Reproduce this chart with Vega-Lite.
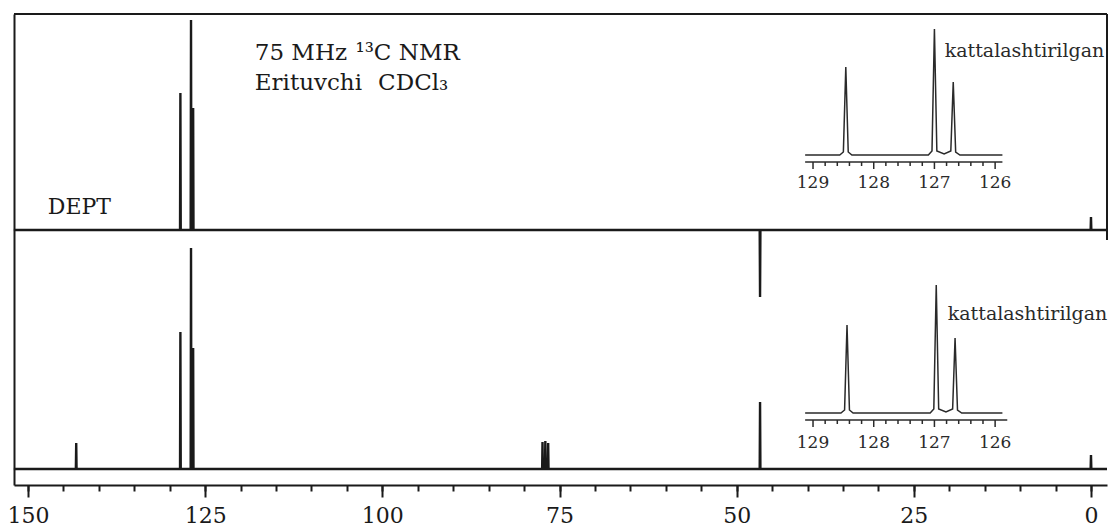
{
  "$schema": "https://vega.github.io/schema/vega-lite/v6.json",
  "width": 1093,
  "height": 471,
  "autosize": {"type": "none"},
  "padding": {"left": 14, "top": 14, "right": 3, "bottom": 47},
  "background": "white",
  "config": {"view": {"stroke": null}, "font": "DejaVu Serif"},
  "datasets": {
    "top": [
      {"ppm": 152, "intensity": 0},
      {"ppm": 128.55, "intensity": 0}, {"ppm": 128.5, "intensity": 137}, {"ppm": 128.45, "intensity": 0},
      {"ppm": 127.05, "intensity": 0}, {"ppm": 127.0, "intensity": 210}, {"ppm": 126.95, "intensity": 0},
      {"ppm": 126.75, "intensity": 0}, {"ppm": 126.7, "intensity": 122}, {"ppm": 126.65, "intensity": 0},
      {"ppm": 46.75, "intensity": 0}, {"ppm": 46.7, "intensity": -67}, {"ppm": 46.65, "intensity": 0},
      {"ppm": 0.05, "intensity": 0}, {"ppm": 0.0, "intensity": 13}, {"ppm": -0.05, "intensity": 0},
      {"ppm": -2.26, "intensity": 0}
    ],
    "bottom": [
      {"ppm": 152, "intensity": 0},
      {"ppm": 143.25, "intensity": 0}, {"ppm": 143.2, "intensity": 26}, {"ppm": 143.15, "intensity": 0},
      {"ppm": 128.55, "intensity": 0}, {"ppm": 128.5, "intensity": 137}, {"ppm": 128.45, "intensity": 0},
      {"ppm": 127.05, "intensity": 0}, {"ppm": 127.0, "intensity": 221}, {"ppm": 126.95, "intensity": 0},
      {"ppm": 126.75, "intensity": 0}, {"ppm": 126.7, "intensity": 121}, {"ppm": 126.65, "intensity": 0},
      {"ppm": 77.45, "intensity": 0}, {"ppm": 77.4, "intensity": 27}, {"ppm": 77.35, "intensity": 0},
      {"ppm": 77.05, "intensity": 0}, {"ppm": 77.0, "intensity": 28}, {"ppm": 76.95, "intensity": 0},
      {"ppm": 76.65, "intensity": 0}, {"ppm": 76.6, "intensity": 26}, {"ppm": 76.55, "intensity": 0},
      {"ppm": 46.75, "intensity": 0}, {"ppm": 46.7, "intensity": 67}, {"ppm": 46.65, "intensity": 0},
      {"ppm": 0.05, "intensity": 0}, {"ppm": 0.0, "intensity": 14}, {"ppm": -0.05, "intensity": 0},
      {"ppm": -2.26, "intensity": 0}
    ],
    "inset_top": [
      {"ppm": 129.13, "intensity": 0},
      {"ppm": 128.56, "intensity": 0}, {"ppm": 128.5, "intensity": 3}, {"ppm": 128.46, "intensity": 88}, {"ppm": 128.42, "intensity": 3}, {"ppm": 128.36, "intensity": 0},
      {"ppm": 127.1, "intensity": 0}, {"ppm": 127.04, "intensity": 4}, {"ppm": 127.0, "intensity": 126}, {"ppm": 126.96, "intensity": 4},
      {"ppm": 126.84, "intensity": 1}, {"ppm": 126.73, "intensity": 4}, {"ppm": 126.69, "intensity": 73}, {"ppm": 126.65, "intensity": 3}, {"ppm": 126.58, "intensity": 0},
      {"ppm": 125.88, "intensity": 0}
    ],
    "inset_bottom": [
      {"ppm": 129.13, "intensity": 0},
      {"ppm": 128.54, "intensity": 0}, {"ppm": 128.48, "intensity": 3}, {"ppm": 128.44, "intensity": 88}, {"ppm": 128.4, "intensity": 3}, {"ppm": 128.34, "intensity": 0},
      {"ppm": 127.07, "intensity": 0}, {"ppm": 127.01, "intensity": 4}, {"ppm": 126.97, "intensity": 128}, {"ppm": 126.93, "intensity": 4},
      {"ppm": 126.81, "intensity": 1}, {"ppm": 126.7, "intensity": 4}, {"ppm": 126.66, "intensity": 75}, {"ppm": 126.62, "intensity": 3}, {"ppm": 126.55, "intensity": 0},
      {"ppm": 125.88, "intensity": 0}
    ],
    "inset_major": [{"ppm": 129}, {"ppm": 128}, {"ppm": 127}, {"ppm": 126}],
    "inset_minor": [
      {"ppm": 128.8}, {"ppm": 128.6}, {"ppm": 128.4}, {"ppm": 128.2},
      {"ppm": 127.8}, {"ppm": 127.6}, {"ppm": 127.4}, {"ppm": 127.2},
      {"ppm": 126.8}, {"ppm": 126.6}, {"ppm": 126.4}, {"ppm": 126.2}
    ],
    "notes": [{"label": "note"}]
  },
  "layer": [
    {
      "layer": [
        {
          "data": {"name": "top"},
          "mark": {"type": "line", "color": "#1a1a1a", "strokeWidth": 2.4, "interpolate": "linear"},
          "encoding": {
            "x": {"field": "ppm", "type": "quantitative", "scale": {"domain": [-2.26, 151.98], "reverse": true, "nice": false, "zero": false},
              "axis": {"orient": "bottom", "values": [150,125,100,75,50,25,0],
                "tickSize": 12, "tickWidth": 2, "tickColor": "#1a1a1a", "domainColor": "#1a1a1a", "domainWidth": 2,
                "labelFont": "DejaVu Serif", "labelFontSize": 22, "labelColor": "#1a1a1a", "labelPadding": 8,
                "labelOverlap": false, "labelFlush": false, "grid": false, "title": null, "format": "d"}},
            "y": {"field": "intensity", "type": "quantitative", "scale": {"domain": [-255, 216], "nice": false, "zero": false},
              "axis": {"orient": "left", "domain": true, "ticks": false, "labels": false, "grid": false, "title": null, "domainColor": "#1a1a1a", "domainWidth": 2}}
          }
        },
        {
          "data": {"name": "notes"},
          "mark": {"type": "rule", "color": "#1a1a1a", "strokeWidth": 2},
          "encoding": {"x": {"datum": 151.98}, "x2": {"datum": -2.26}, "y": {"datum": 216}}
        },
        {
          "data": {"name": "notes"},
          "mark": {"type": "rule", "color": "#1a1a1a", "strokeWidth": 2},
          "encoding": {"x": {"datum": -2.26}, "y": {"datum": 216}, "y2": {"datum": -10}}
        },
        {
          "data": {"name": "notes"},
          "mark": {"type": "text", "align": "left", "baseline": "alphabetic", "font": "DejaVu Serif", "fontSize": 23, "color": "#1a1a1a"},
          "encoding": {"x": {"datum": 118}, "y": {"datum": 170}, "text": {"value": "75 MHz"}}
        },
        {
          "data": {"name": "notes"},
          "mark": {"type": "text", "align": "left", "baseline": "alphabetic", "font": "DejaVu Serif", "fontSize": 23, "color": "#1a1a1a"},
          "encoding": {"x": {"datum": 103.8}, "y": {"datum": 170}, "text": {"value": "¹³C NMR"}}
        },
        {
          "data": {"name": "notes"},
          "mark": {"type": "text", "align": "left", "baseline": "alphabetic", "font": "DejaVu Serif", "fontSize": 23, "color": "#1a1a1a"},
          "encoding": {"x": {"datum": 118}, "y": {"datum": 140}, "text": {"value": "Erituvchi"}}
        },
        {
          "data": {"name": "notes"},
          "mark": {"type": "text", "align": "left", "baseline": "alphabetic", "font": "DejaVu Serif", "fontSize": 23, "color": "#1a1a1a"},
          "encoding": {"x": {"datum": 100.6}, "y": {"datum": 140}, "text": {"value": "CDCl₃"}}
        },
        {
          "data": {"name": "notes"},
          "mark": {"type": "text", "align": "left", "baseline": "alphabetic", "font": "DejaVu Serif", "fontSize": 22, "color": "#1a1a1a"},
          "encoding": {"x": {"datum": 147.2}, "y": {"datum": 16}, "text": {"value": "DEPT"}}
        }
      ]
    },
    {
      "data": {"name": "bottom"},
      "mark": {"type": "line", "color": "#1a1a1a", "strokeWidth": 2.4, "interpolate": "linear"},
      "encoding": {
        "x": {"field": "ppm", "type": "quantitative", "scale": {"domain": [-2.26, 151.98], "reverse": true, "nice": false, "zero": false},
          "axis": {"orient": "bottom", "values": [150,145,140,135,130,125,120,115,110,105,100,95,90,85,80,75,70,65,60,55,50,45,40,35,30,25,20,15,10,5,0],
            "tickSize": 6, "tickWidth": 2, "tickColor": "#1a1a1a", "domain": false, "labels": false, "grid": false, "title": null}},
        "y": {"field": "intensity", "type": "quantitative", "scale": {"domain": [-16, 455], "nice": false, "zero": false}, "axis": null}
      }
    },
    {
      "layer": [
        {
          "data": {"name": "inset_top"},
          "mark": {"type": "line", "color": "#2a2a2a", "strokeWidth": 1.5},
          "encoding": {
            "x": {"field": "ppm", "type": "quantitative", "scale": {"domain": [124.157, 142.163], "reverse": true, "nice": false, "zero": false}, "axis": null},
            "y": {"field": "intensity", "type": "quantitative", "scale": {"domain": [-330, 141], "nice": false, "zero": false}, "axis": null}
          }
        },
        {
          "data": {"name": "notes"},
          "mark": {"type": "rule", "color": "#2a2a2a", "strokeWidth": 1.5},
          "encoding": {"x": {"datum": 129.13}, "x2": {"datum": 125.88}, "y": {"datum": -7}}
        },
        {
          "data": {"name": "inset_major"},
          "mark": {"type": "rule", "color": "#2a2a2a", "strokeWidth": 1.5},
          "encoding": {"x": {"field": "ppm", "type": "quantitative"}, "y": {"datum": -7}, "y2": {"datum": -14}}
        },
        {
          "data": {"name": "inset_minor"},
          "mark": {"type": "rule", "color": "#2a2a2a", "strokeWidth": 1.5},
          "encoding": {"x": {"field": "ppm", "type": "quantitative"}, "y": {"datum": -7}, "y2": {"datum": -11}}
        },
        {
          "data": {"name": "inset_major"},
          "mark": {"type": "text", "baseline": "middle", "align": "center", "font": "DejaVu Serif", "fontSize": 17, "color": "#2a2a2a"},
          "encoding": {"x": {"field": "ppm", "type": "quantitative"}, "y": {"datum": -28}, "text": {"field": "ppm", "type": "quantitative", "format": "d"}}
        },
        {
          "data": {"name": "notes"},
          "mark": {"type": "text", "align": "left", "baseline": "alphabetic", "font": "DejaVu Serif", "fontSize": 19, "color": "#2a2a2a"},
          "encoding": {"x": {"datum": 126.83}, "y": {"datum": 98}, "text": {"value": "kattalashtirilgan"}}
        }
      ]
    },
    {
      "layer": [
        {
          "data": {"name": "inset_bottom"},
          "mark": {"type": "line", "color": "#2a2a2a", "strokeWidth": 1.5},
          "encoding": {
            "x": {"field": "ppm", "type": "quantitative", "scale": {"domain": [124.157, 142.163], "reverse": true, "nice": false, "zero": false}, "axis": null},
            "y": {"field": "intensity", "type": "quantitative", "scale": {"domain": [-72, 399], "nice": false, "zero": false}, "axis": null}
          }
        },
        {
          "data": {"name": "notes"},
          "mark": {"type": "rule", "color": "#2a2a2a", "strokeWidth": 1.5},
          "encoding": {"x": {"datum": 129.13}, "x2": {"datum": 125.8}, "y": {"datum": -7}}
        },
        {
          "data": {"name": "inset_major"},
          "mark": {"type": "rule", "color": "#2a2a2a", "strokeWidth": 1.5},
          "encoding": {"x": {"field": "ppm", "type": "quantitative"}, "y": {"datum": -7}, "y2": {"datum": -14}}
        },
        {
          "data": {"name": "inset_minor"},
          "mark": {"type": "rule", "color": "#2a2a2a", "strokeWidth": 1.5},
          "encoding": {"x": {"field": "ppm", "type": "quantitative"}, "y": {"datum": -7}, "y2": {"datum": -11}}
        },
        {
          "data": {"name": "inset_major"},
          "mark": {"type": "text", "baseline": "middle", "align": "center", "font": "DejaVu Serif", "fontSize": 17, "color": "#2a2a2a"},
          "encoding": {"x": {"field": "ppm", "type": "quantitative"}, "y": {"datum": -30}, "text": {"field": "ppm", "type": "quantitative", "format": "d"}}
        },
        {
          "data": {"name": "notes"},
          "mark": {"type": "text", "align": "left", "baseline": "alphabetic", "font": "DejaVu Serif", "fontSize": 19, "color": "#2a2a2a"},
          "encoding": {"x": {"datum": 126.78}, "y": {"datum": 93}, "text": {"value": "kattalashtirilgan"}}
        }
      ]
    }
  ],
  "resolve": {"scale": {"x": "independent", "y": "independent"}, "axis": {"x": "independent", "y": "independent"}}
}
